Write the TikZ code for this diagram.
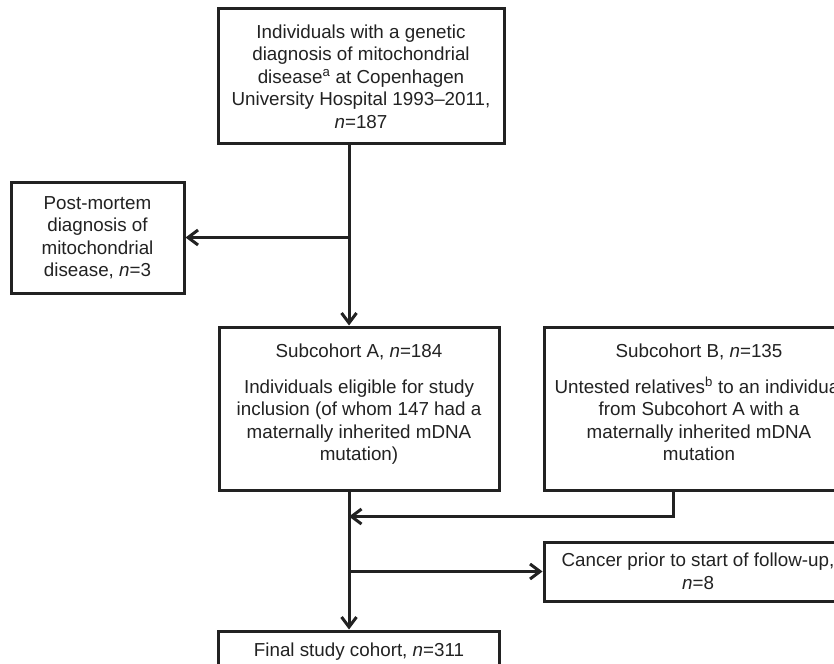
\documentclass[tikz,border=0pt]{standalone}
\usepackage{fontspec}
\setmainfont{Liberation Sans}
\usetikzlibrary{arrows.meta, positioning, calc}
\definecolor{Ink}{HTML}{222222}
\tikzset{
  cbox/.style={rectangle, draw=Ink, line width=3pt, text=Ink,
    align=center, inner sep=0pt, font=\fontsize{18.8}{22.5}\selectfont},
  topbox/.style={cbox, minimum width=286pt, minimum height=135pt},
  sidebox/.style={cbox, minimum width=173pt, minimum height=111pt},
  subbox/.style={cbox, minimum width=280pt, minimum height=163pt},
  relbox/.style={cbox, minimum width=310pt, minimum height=163pt},
  exbox/.style={cbox, minimum width=308pt, minimum height=59pt},
  endbox/.style={cbox, minimum width=281pt, minimum height=42pt},
  arr/.style={-{Straight Barb[length=10pt, width=15pt]}, line width=3pt, draw=Ink},
}

\begin{document}
\begin{tikzpicture}
  \clip (0,0) rectangle (834pt,-663pt);
  \fill[white] (0,0) rectangle (834pt,-663pt);

  \node (indiv)  [topbox] at (361pt,-76.5pt)
    {Individuals with a genetic\\diagnosis of mitochondrial\\disease\textsuperscript{a} at Copenhagen\\University Hospital 1993--2011,\\\textit{n}=187};
  \node (pm)     [sidebox, below left=35pt and 31pt of indiv.south west]
    {Post-mortem\\diagnosis of\\mitochondrial\\disease, \textit{n}=3};
  \node (subA)   [subbox, below=180pt of indiv, xshift=-2pt]
    {Subcohort A, \textit{n}=184\\[13pt]Individuals eligible for study\\inclusion (of whom 147 had a\\maternally inherited mDNA\\mutation)\\[-10pt]};
  \node (subB)   [relbox, right=42pt of subA]
    {Subcohort B, \textit{n}=135\\[13pt]Untested relatives\textsuperscript{b} to an individual\\from Subcohort A with a\\maternally inherited mDNA\\mutation\\[-10pt]};
  \node (cancer) [exbox, below right=49pt and 0pt of subB.south west]
    {Cancer prior to start of follow-up,\\\textit{n}=8};
  \node (final)  [endbox, below=138pt of subA]
    {Final study cohort, \textit{n}=311};

  \coordinate (trunk) at ([xshift=-10pt]subA.north);
  \coordinate (bjoin) at ($(subB.south west)+(131pt,0)$);
  \coordinate (merge) at ($(subA.south -| trunk)+(0,-25pt)$);

  \draw[arr] (indiv.south -| trunk) -- (subA.north -| trunk);
  \draw[arr] (pm.east -| trunk)     -- (pm.east);
  \draw[arr] (subA.south -| trunk)  -- (final.north -| trunk);
  \draw[arr] (bjoin)                |- (merge);
  \draw[arr] (cancer.west -| trunk) -- (cancer.west);
\end{tikzpicture}
\end{document}
